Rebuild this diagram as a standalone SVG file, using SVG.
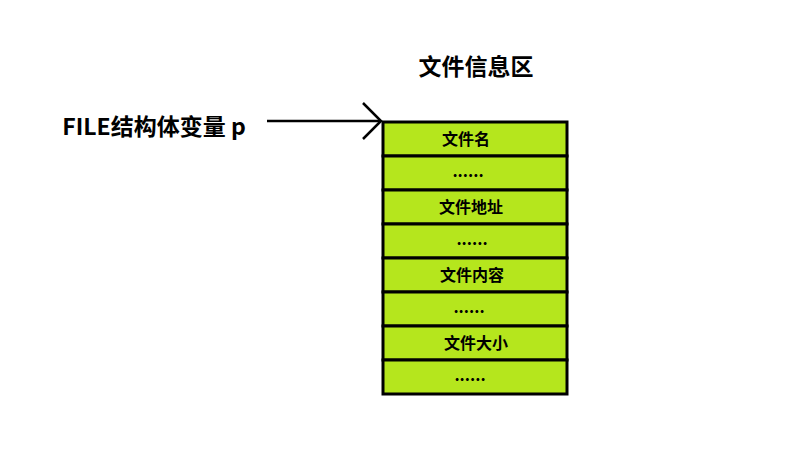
<svg xmlns="http://www.w3.org/2000/svg" width="787" height="455" viewBox="0 0 787 455">
<style>
.t{font-family:"Noto Sans CJK SC","Noto Sans",sans-serif;font-weight:bold;fill:#000;text-anchor:middle}
.row{fill:#b5e61d;stroke:#000;stroke-width:3}
.lbl{font-size:16px}
</style>
<rect width="787" height="455" fill="#fff"/>
<g id="title"><text class="t" x="476" y="75" font-size="23">文件信息区</text></g>
<g id="var"><text class="t" x="154" y="135" font-size="23">FILE结构体变量 p</text></g>
<g id="connectors">
<line x1="267" y1="121" x2="381" y2="121" stroke="#000" stroke-width="2.5"/>
<polyline points="363,103 381,121 363,139" fill="none" stroke="#000" stroke-width="2.5"/>
</g>
<g id="table">
<g id="r1"><rect class="row" x="383" y="122" width="184" height="34"/><text class="t lbl" x="466" y="145">文件名</text></g>
<g id="r2"><rect class="row" x="383" y="156" width="184" height="34"/><text class="t lbl" x="468" y="177">......</text></g>
<g id="r3"><rect class="row" x="383" y="190" width="184" height="34"/><text class="t lbl" x="471" y="213">文件地址</text></g>
<g id="r4"><rect class="row" x="383" y="224" width="184" height="34"/><text class="t lbl" x="472" y="245">......</text></g>
<g id="r5"><rect class="row" x="383" y="258" width="184" height="34"/><text class="t lbl" x="472" y="281">文件内容</text></g>
<g id="r6"><rect class="row" x="383" y="292" width="184" height="34"/><text class="t lbl" x="469" y="313">......</text></g>
<g id="r7"><rect class="row" x="383" y="326" width="184" height="34"/><text class="t lbl" x="476" y="349">文件大小</text></g>
<g id="r8"><rect class="row" x="383" y="360" width="184" height="34"/><text class="t lbl" x="470" y="381">......</text></g>
</g>
</svg>
